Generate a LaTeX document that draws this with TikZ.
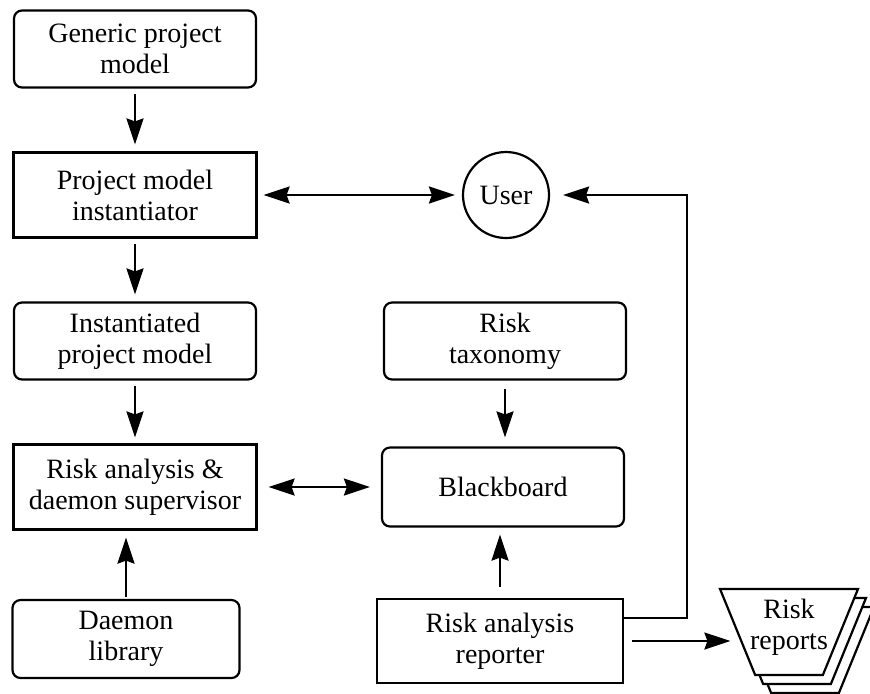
\documentclass[tikz,border=0pt]{standalone}
\usepackage{fontspec}
\setmainfont{Liberation Serif}
\usetikzlibrary{arrows.meta,shapes.geometric}

\begin{document}
\begin{tikzpicture}[x=0.5pt, y=-0.5pt, node distance=73pt,
  every node/.style={font=\fontsize{14pt}{15.5pt}\selectfont, align=center, line width=1.1pt},
  rbox/.style={draw=black, rounded corners=4pt, minimum width=121pt, minimum height=38.5pt, inner sep=0pt},
  sbox/.style={draw=black, rectangle, minimum width=121.5pt, minimum height=42.5pt, inner sep=0pt},
  arr/.style={draw=black, line width=1.1pt, -{Stealth[length=13pt, width=8.5pt, inset=1.5pt]}, shorten <=2.5pt, shorten >=3.5pt},
  both/.style={arr, {Stealth[length=13pt, width=8.5pt, inset=1.5pt]}-{Stealth[length=13pt, width=8.5pt, inset=1.5pt]}},
  report/.style={draw=black, fill=white, trapezium, shape border rotate=180, trapezium angle=61,
    trapezium stretches=true, minimum width=69pt, minimum height=43pt, inner sep=1pt}]
\useasboundingbox (0,0) rectangle (870,693);
\clip (0,0) rectangle (870,693);
% left column
\node[rbox] (gen) at (135,49) {Generic project\\model};
\node[sbox, below of=gen] (inst) {Project model\\instantiator};
\node[rbox, below of=inst] (ipm) {Instantiated\\project model};
\node[sbox, below of=ipm] (rads) {Risk analysis \&\\daemon supervisor};
\node[rbox, below of=rads, node distance=76pt, xshift=-4.5pt, minimum width=113.5pt, minimum height=39pt] (dlib) {Daemon\\library};
% right column
\node[draw=black, circle, minimum size=43pt, inner sep=0pt, right of=inst, node distance=185.5pt] (user) {User};
\node[rbox, right of=ipm, node distance=185pt] (tax) {Risk\\taxonomy};
\node[rbox, right of=rads, node distance=184pt, minimum height=39.5pt] (bb) {Blackboard};
\node[sbox, below of=bb, node distance=77pt, xshift=-1.5pt, minimum width=123pt, minimum height=42pt] (rep) {Risk analysis\\reporter};
% stacked reports
\foreach \d in {2,1}
  \node[report] (reports\d) at (789+8*\d, 632+9*\d) {\phantom{x}};
\node[report, label={[yshift=2.5pt]center:Risk\\reports}] (reports) at (789,632) {\phantom{x}};
% connectors
\draw[arr] (gen) -- (inst);
\draw[arr] (inst) -- (ipm);
\draw[arr, shorten >=3pt] (ipm) -- (rads);
\draw[arr, shorten <=1pt] (dlib.north) -- (dlib.north |- rads.south);
\draw[both, shorten <=3pt, shorten >=3.5pt] (inst) -- (user);
\draw[both, shorten <=5.5pt, shorten >=5.5pt] (rads) -- (bb);
\draw[arr, shorten <=4pt, shorten >=4.5pt] (tax.south) -- (tax.south |- bb.north);
\draw[arr, shorten <=5.5pt, shorten >=3.5pt] (rep.north) -- (rep.north |- bb.south);
\draw[arr, shorten <=0pt, shorten >=6.5pt] ([yshift=11.5pt]rep.east) -- ++(63,0) |- (user);
\draw[arr, shorten <=4pt, shorten >=3pt] (rep.east) -- (rep.east -| reports.west);
\end{tikzpicture}
\end{document}
